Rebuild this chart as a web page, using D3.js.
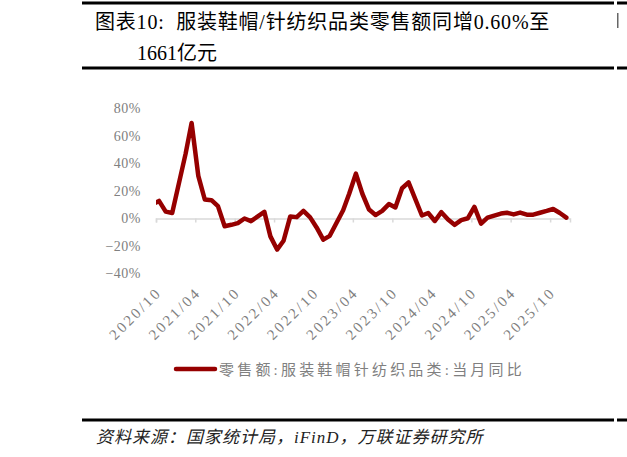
<!DOCTYPE html>
<html>
<head>
<meta charset="utf-8">
<script src="https://cdn.jsdelivr.net/npm/d3@7"></script>
<style>
  body { margin: 0; background: #fff; }
  svg { display: block; }
</style>
</head>
<body>
<div id="graf"></div>
<script>
// datos: mes (se omite enero, se publica junto con febrero) y variación % anual
meses = ['2020-09', '2020-10', '2020-11', '2020-12',
  '2021-02', '2021-03', '2021-04', '2021-05', '2021-06', '2021-07', '2021-08', '2021-09', '2021-10', '2021-11', '2021-12',
  '2022-02', '2022-03', '2022-04', '2022-05', '2022-06', '2022-07', '2022-08', '2022-09', '2022-10', '2022-11', '2022-12',
  '2023-02', '2023-03', '2023-04', '2023-05', '2023-06', '2023-07', '2023-08', '2023-09', '2023-10', '2023-11', '2023-12',
  '2024-02', '2024-03', '2024-04', '2024-05', '2024-06', '2024-07', '2024-08', '2024-09', '2024-10', '2024-11', '2024-12',
  '2025-02', '2025-03', '2025-04', '2025-05', '2025-06', '2025-07', '2025-08', '2025-09', '2025-10', '2025-11', '2025-12']

valores = [10.4, 12.8, 5.0, 4.0,
  47.0, 69.5, 31.0, 13.8, 13.3, 9.0, -5.6, -4.6, -3.4, 0.0, -1.9,
  4.8, -13.0, -22.6, -16.2, 1.5, 1.0, 5.5, 0.8, -6.5, -15.4, -12.6,
  6.0, 18.0, 32.6, 18.0, 6.5, 2.5, 5.5, 10.5, 8.0, 22.0, 26.3,
  2.2, 4.0, -1.8, 4.6, -0.8, -4.6, -1.2, 0.2, 8.4, -3.8, 0.6,
  3.6, 4.2, 3.0, 4.3, 2.8, 2.8, 4.2, 5.5, 6.9, 4.0, 0.6]

etiquetasX = ['2020/10', '2021/04', '2021/10', '2022/04', '2022/10', '2023/04',
  '2023/10', '2024/04', '2024/10', '2025/04', '2025/10']

ticksY = [-40, -20, 0, 20, 40, 60, 80]

titulo1 = '图表10:  服装鞋帽/针纺织品类零售额同增0.60%至'
titulo2 = '1661亿元'
leyenda = '零售额:服装鞋帽针纺织品类:当月同比'
fuente = '资料来源：国家统计局，iFinD，万联证券研究所'

// I. Configuración
ancho_total = 627
alto_total = 457
rojo = '#960000'
gris = '#808080'
serif = "'Liberation Serif', 'Noto Sans CJK SC', serif"

svg = d3.select('#graf').append('svg')
        .attr('width', ancho_total)
        .attr('height', alto_total)

parseMes = d3.timeParse('%Y-%m-%d')
dataArray = meses.map((m, i) => ({ fecha: parseMes(m + '-15'), valor: valores[i] }))

x = d3.scaleTime()
      .domain([parseMes('2020-10-01'), parseMes('2026-01-01')])
      .range([156, 570])

y = d3.scaleLinear()
      .domain([-40, 80])
      .range([273.5, 108.5])

tickFechas = etiquetasX.map(d => d3.timeParse('%Y/%m')(d))

// eje en el cero
ejeCero = svg.append('g')
             .attr('transform', `translate(0, ${ y(0) })`)
             .call(d3.axisBottom(x).tickValues(tickFechas).tickFormat('').tickSizeOuter(0).tickSize(4))
ejeCero.select('.domain').attr('stroke', '#d9d9d9').attr('stroke-width', 1.5)
ejeCero.selectAll('.tick line').attr('stroke', '#d9d9d9').attr('stroke-width', 1.5)

// etiquetas abajo
ejeAbajo = svg.append('g')
              .attr('transform', `translate(0, ${ y(-40) })`)
              .call(d3.axisBottom(x).tickValues(tickFechas).tickFormat(d3.timeFormat('%Y/%m')).tickSize(0))
ejeAbajo.select('.domain').remove()
ejeAbajo.selectAll('text')
        .attr('x', 6)
        .attr('y', 20)
        .attr('dy', 0)
        .attr('text-anchor', 'end')
        .attr('transform', 'rotate(-45, 6, 20)')
        .style('font-family', serif)
        .style('font-size', '15px')
        .style('letter-spacing', '2.5px')
        .attr('fill', gris)

ejeY = svg.append('g')
          .attr('transform', 'translate(156, 0)')
          .call(d3.axisLeft(y).tickValues(ticksY).tickSize(0).tickPadding(15)
                  .tickFormat(d => d3.format('d')(d) + '%'))
ejeY.select('.domain').remove()
ejeY.selectAll('text')
    .style('font-family', serif)
    .style('font-size', '14px')
    .style('letter-spacing', '0.5px')
    .attr('fill', gris)

// línea
svg.append('clipPath').attr('id', 'recorte')
   .append('rect').attr('x', 156).attr('y', 0).attr('width', 471).attr('height', alto_total)

linea = d3.line()
          .x(d => x(d.fecha))
          .y(d => y(d.valor))

svg.append('path')
   .datum(dataArray)
   .attr('clip-path', 'url(#recorte)')
   .attr('d', linea)
   .attr('fill', 'none')
   .attr('stroke', rojo)
   .attr('stroke-width', 4.5)
   .attr('stroke-linejoin', 'round')
   .attr('stroke-linecap', 'round')

// leyenda
svg.append('line')
   .attr('x1', 176).attr('x2', 215).attr('y1', 369).attr('y2', 369)
   .attr('stroke', rojo).attr('stroke-width', 4.5).attr('stroke-linecap', 'round')
svg.append('text')
   .attr('x', 219).attr('y', 374.5)
   .text(leyenda)
   .style('font-family', serif)
   .style('font-size', '15px')
   .style('letter-spacing', '3.2px')
   .attr('fill', gris)

// título y reglas
reglas = [3, 68, 420]
reglas.forEach(r => {
  svg.append('rect').attr('x', 82).attr('y', r - 1.5).attr('width', 532).attr('height', 3).attr('fill', '#000')
  svg.append('rect').attr('x', 617).attr('y', r - 1.5).attr('width', 10).attr('height', 3).attr('fill', '#000')
})
svg.append('rect').attr('x', 617).attr('y', 13).attr('width', 1.5).attr('height', 15).attr('fill', '#666')

svg.append('text')
   .attr('x', 95).attr('y', 28.5)
   .style('white-space', 'pre')
   .style('font-family', serif)
   .style('font-size', '20px')
   .style('letter-spacing', '0.8px')
   .attr('fill', '#000')
   .text(titulo1)
svg.append('text')
   .attr('x', 137).attr('y', 60)
   .style('font-family', serif)
   .style('font-size', '20px')
   .attr('fill', '#000')
   .text(titulo2)

svg.append('text')
   .attr('x', 96).attr('y', 443)
   .style('font-family', serif)
   .style('font-size', '17px')
   .style('font-style', 'italic')
   .style('letter-spacing', '1px')
   .attr('fill', '#222')
   .text(fuente)
</script>
</body>
</html>
